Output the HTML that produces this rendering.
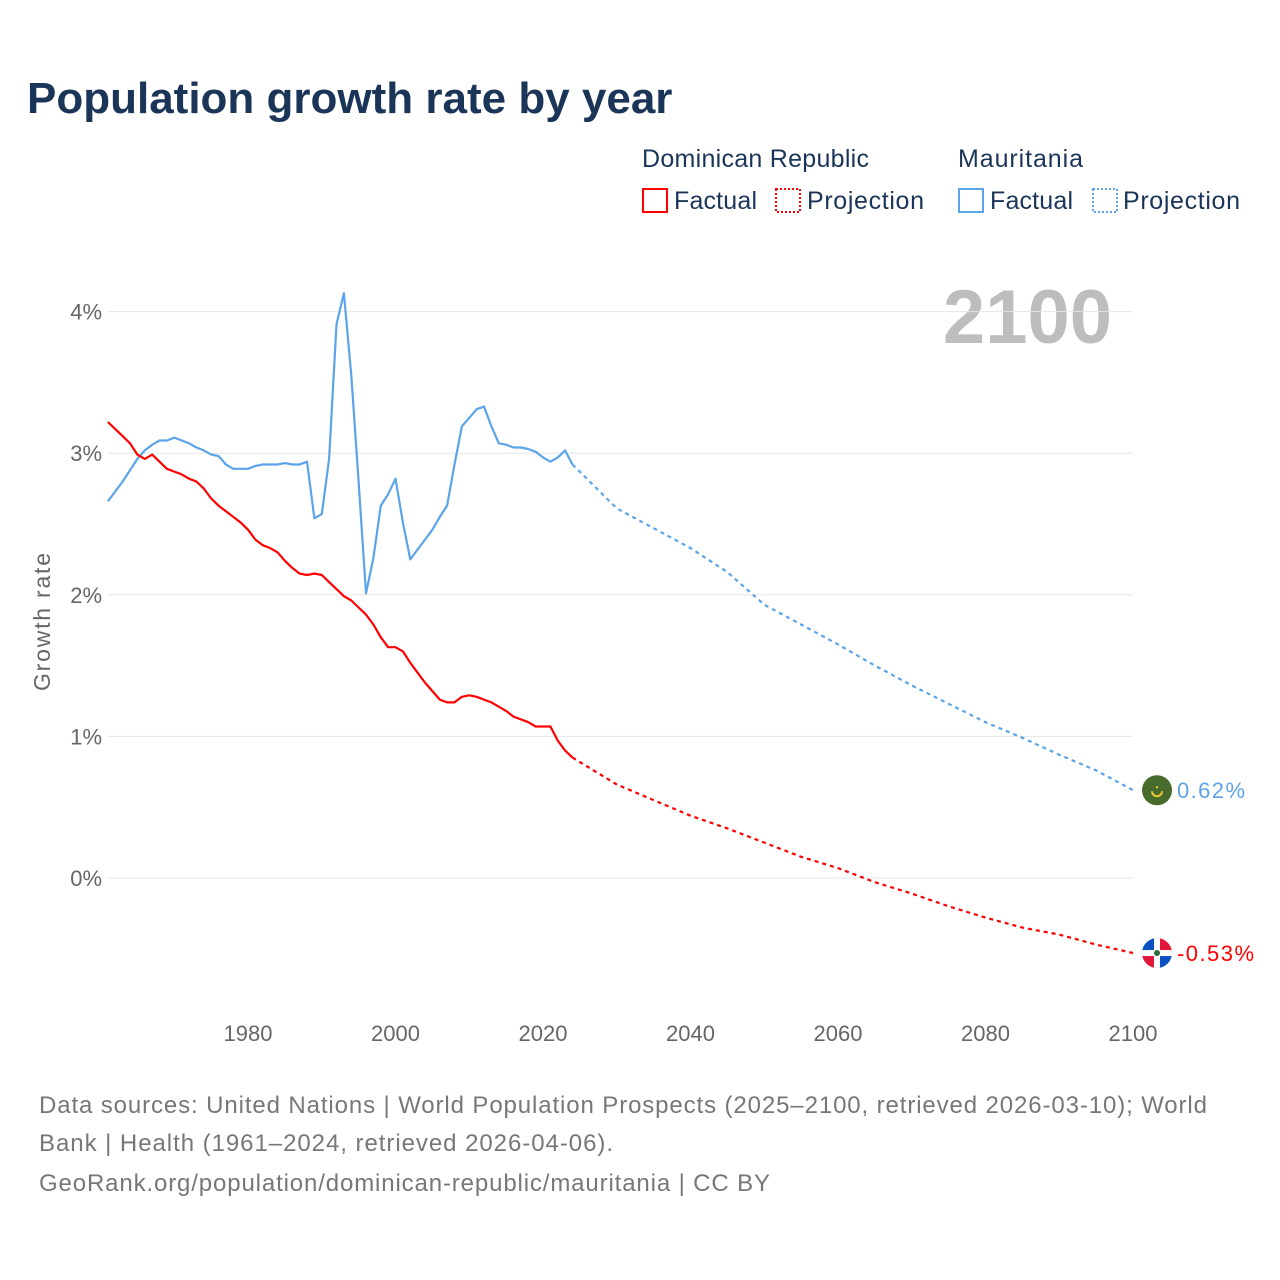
<!DOCTYPE html>
<html><head><meta charset="utf-8"><style>
body{margin:0;background:#fff;font-family:"Liberation Sans",sans-serif}
#wrap{position:relative;width:1280px;height:1280px;overflow:hidden}
</style></head><body>
<div id="wrap">
<svg id="chart" width="1280" height="1280" style="font-family:'Liberation Sans',sans-serif">
<text x="27" y="113" font-size="44" font-weight="bold" fill="#1a3557">Population growth rate by year</text>
<g font-size="25" fill="#1a3557">
<text x="642" y="167" textLength="227">Dominican Republic</text>
<text x="958" y="167" textLength="125">Mauritania</text>
<g><rect x="643" y="189" width="24" height="23" fill="none" stroke="#f00" stroke-width="2"/><text x="674" y="209" textLength="83">Factual</text></g>
<g><rect x="776" y="189" width="24" height="23" fill="none" stroke="#f00" stroke-width="2" stroke-dasharray="2,2"/><text x="807" y="209" textLength="117">Projection</text></g>
<g><rect x="959" y="189" width="24" height="23" fill="none" stroke="#5ba4ea" stroke-width="2"/><text x="990" y="209" textLength="83">Factual</text></g>
<g><rect x="1093" y="189" width="24" height="23" fill="none" stroke="#5ba4ea" stroke-width="2" stroke-dasharray="2,2"/><text x="1123" y="209" textLength="117">Projection</text></g>
</g>
<text x="1112" y="343" font-size="76" font-weight="bold" fill="#bdbdbd" text-anchor="end">2100</text>
<g id="grid"></g><g id="series"></g>
<text transform="translate(50,622) rotate(-90)" font-size="23" fill="#666" text-anchor="middle" textLength="138">Growth rate</text>
<g font-size="24" fill="#777">
<text x="39" y="1113" textLength="1168">Data sources: United Nations | World Population Prospects (2025–2100, retrieved 2026-03-10); World</text>
<text x="39" y="1151" textLength="574">Bank | Health (1961–2024, retrieved 2026-04-06).</text>
<text x="39" y="1191" textLength="731">GeoRank.org/population/dominican-republic/mauritania | CC BY</text>
</g>
</svg>
</div>
<script>
const yTicks=[0,1,2,3,4];
const xTicks=[1980,2000,2020,2040,2060,2080,2100];
const mrYears=[];for(let y=1961;y<=2024;y++)mrYears.push(y);
const mrFactual=[2.66,2.73,2.80,2.88,2.96,3.02,3.06,3.09,3.09,3.11,3.09,3.07,3.04,3.02,2.99,2.98,2.92,2.89,2.89,2.89,2.91,2.92,2.92,2.92,2.93,2.92,2.92,2.94,2.54,2.57,2.96,3.91,4.13,3.55,2.80,2.01,2.26,2.63,2.71,2.82,2.51,2.25,2.32,2.39,2.46,2.55,2.63,2.92,3.19,3.25,3.31,3.33,3.19,3.07,3.06,3.04,3.04,3.03,3.01,2.97,2.94,2.97,3.02,2.92];
const drFactual=[3.22,3.17,3.12,3.07,2.99,2.96,2.99,2.94,2.89,2.87,2.85,2.82,2.80,2.75,2.68,2.63,2.59,2.55,2.51,2.46,2.39,2.35,2.33,2.30,2.24,2.19,2.15,2.14,2.15,2.14,2.09,2.04,1.99,1.96,1.91,1.86,1.79,1.70,1.63,1.63,1.60,1.52,1.45,1.38,1.32,1.26,1.24,1.24,1.28,1.29,1.28,1.26,1.24,1.21,1.18,1.14,1.12,1.10,1.07,1.07,1.07,0.97,0.90,0.85];
const projYears=[2024,2030,2035,2040,2045,2050,2055,2060,2065,2070,2075,2080,2085,2090,2095,2100];
const mrProj=[2.92,2.61,2.47,2.33,2.16,1.93,1.79,1.65,1.50,1.36,1.23,1.10,0.99,0.87,0.76,0.62];
const drProj=[0.85,0.66,0.55,0.44,0.35,0.25,0.15,0.07,-0.03,-0.11,-0.20,-0.28,-0.35,-0.40,-0.47,-0.53];
const NS="http://www.w3.org/2000/svg";
const X=y=>107.9+(y-1961)*7.375;
const Y=v=>878-v*141.6;
const grid=document.getElementById('grid'),ser=document.getElementById('series');
function mk(tag,at,parent){const e=document.createElementNS(NS,tag);for(const k in at)e.setAttribute(k,at[k]);parent.appendChild(e);return e;}
yTicks.forEach(t=>{
 const l=mk('line',{x1:108,x2:1133,y1:Y(t),y2:Y(t),stroke:'#e6e6e6','stroke-width':1},grid);
 
 
 const tx=mk('text',{x:102,y:Y(t)+8,'font-size':22,fill:'#666','text-anchor':'end'},grid);
 tx.textContent=t+'%';
 
 
});
xTicks.forEach(t=>{
 const tx=mk('text',{x:X(t),y:1041,'font-size':22,fill:'#666','text-anchor':'middle'},grid);
 tx.textContent=t;
 
 
});
function line(xs,vs,color,dash,name){
 const d=xs.map((x,i)=>(i?'L':'M')+X(x).toFixed(1)+','+Y(vs[i]).toFixed(1)).join('');
 const p=mk('path',{d:d,fill:'none',stroke:color,'stroke-width':2.2,'stroke-linejoin':'round'},ser);
 if(dash)p.setAttribute('stroke-dasharray','4,4');
 
 
}
line(mrYears,mrFactual,'#5ba4ea',false,'mauritania-factual-line');
line(projYears,mrProj,'#5ba4ea',true,'mauritania-projection-line');
line(mrYears,drFactual,'#f00',false,'dominican-republic-factual-line');
line(projYears,drProj,'#f00',true,'dominican-republic-projection-line');
const mx=1157,my=Y(mrProj[mrProj.length-1]);
const gm=mk('g',{},ser);


mk('circle',{cx:mx,cy:my,r:15,fill:'#466b2c'},gm);
mk('path',{d:`M${mx-5},${my+1} A5,5 0 0 0 ${mx+5},${my+1}`,fill:'none',stroke:'#e8c630','stroke-width':2},gm);
mk('circle',{cx:mx,cy:my-3,r:1.2,fill:'#e8c630'},gm);
const ml=mk('text',{x:1177,y:my+8,'font-size':22,fill:'#5ba4ea',textLength:68},ser);
ml.textContent=mrProj[mrProj.length-1].toFixed(2)+'%';


const dy=Y(drProj[drProj.length-1]);
const gd=mk('g',{},ser);


const cp=mk('clipPath',{id:'dc'},gd);mk('circle',{cx:mx,cy:dy,r:15},cp);
const gg=mk('g',{'clip-path':'url(#dc)'},gd);
mk('rect',{x:mx-15,y:dy-15,width:15,height:15,fill:'#0b50c0'},gg);
mk('rect',{x:mx,y:dy-15,width:15,height:15,fill:'#e3173a'},gg);
mk('rect',{x:mx-15,y:dy,width:15,height:15,fill:'#e3173a'},gg);
mk('rect',{x:mx,y:dy,width:15,height:15,fill:'#0b50c0'},gg);
mk('rect',{x:mx-15,y:dy-3,width:30,height:6,fill:'#fff'},gg);
mk('rect',{x:mx-3,y:dy-15,width:6,height:30,fill:'#fff'},gg);
mk('circle',{cx:mx,cy:dy,r:3,fill:'#2b6e3a'},gg);
const dl=mk('text',{x:1177,y:dy+8,'font-size':22,fill:'#f00',textLength:77},ser);
dl.textContent=drProj[drProj.length-1].toFixed(2)+'%';


</script>
</body></html>
